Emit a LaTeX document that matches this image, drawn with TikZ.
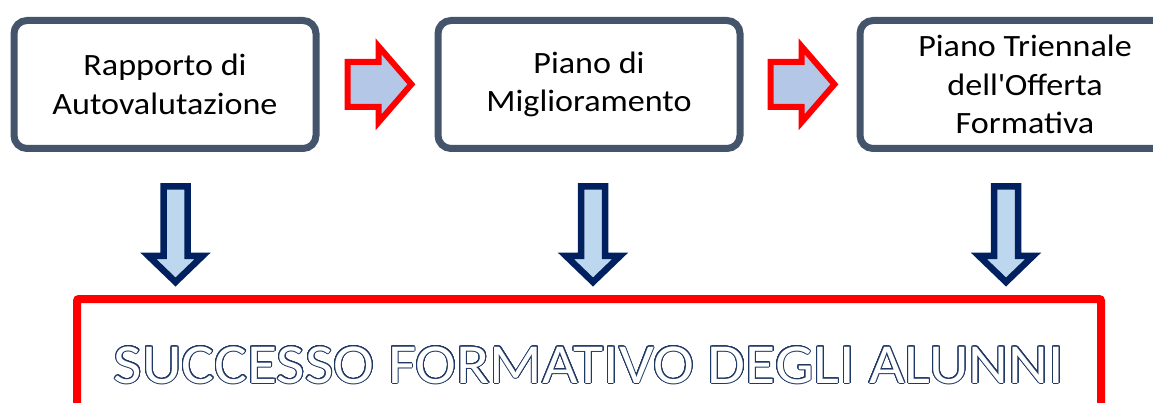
\documentclass[tikz,border=0pt]{standalone}
\usepackage{fontspec}
\setmainfont[FakeStretch=1.1]{Carlito}
\newfontfamily\goalfont[FakeStretch=1.09]{Carlito}
\definecolor{boxgray}{RGB}{68,84,106}
\definecolor{arrowblue}{RGB}{180,199,231}
\definecolor{downblue}{RGB}{189,215,238}
\definecolor{navy}{RGB}{0,32,96}
\definecolor{txtnavy}{RGB}{31,56,100}

\tikzset{
  procbox/.style={draw=boxgray,line width=7pt,rounded corners=13pt,fill=white,
    minimum width=302pt,minimum height=128pt,inner sep=0pt,align=center,
    font=\fontsize{31}{38.5}\selectfont},
  redarrow/.style={draw=red,fill=arrowblue,line width=6pt},
  downarrow/.style={draw=navy,fill=downblue,line width=6.5pt},
  goalbox/.style={draw=red,line width=8pt,rounded corners=2pt,
    minimum width=1024pt,minimum height=110pt,inner sep=0pt},
  goaltxt/.style={anchor=base,inner sep=0pt,font=\goalfont\fontsize{56.5}{60}\selectfont}
}

\begin{document}
\begin{tikzpicture}[x=1pt,y=-1pt]
\useasboundingbox (0,0) rectangle (1153,403);
\clip (0,0) rectangle (1153,403);
\fill[white] (0,0) rectangle (1153,403);

\node[procbox] (rav) at (165,84.5) {Rapporto di\\Autovalutazione};
\node[procbox] (pdm) at (589,84.5) {Piano di\\Miglioramento};
\node[procbox,minimum width=330pt] (ptof) at (1025,84.5) {Piano Triennale\\dell\textquotesingle Offerta\\Formativa};

\foreach \ax in {347.7,770.7}
  \draw[redarrow] (\ax,62) -- (\ax+31,62) -- (\ax+31,46.5) -- (\ax+63.7,84.3)
    -- (\ax+31,122.1) -- (\ax+31,107) -- (\ax,107) -- cycle;

\foreach \cx in {175.5,593,1006}
  \draw[downarrow] (\cx-12,186.5) -- (\cx+12,186.5) -- (\cx+12,256) -- (\cx+27,256)
    -- (\cx,282) -- (\cx-27,256) -- (\cx-12,256) -- cycle;

\node[goalbox] (goal) at (589,354) {};
\foreach \a in {0,15,...,345}
  \node[goaltxt,text=txtnavy] (goalrim\a) at ([shift={(\a:1)}]589,383) {SUCCESSO FORMATIVO DEGLI ALUNNI};
\node[goaltxt,text=white] (goaltext) at (589,383) {SUCCESSO FORMATIVO DEGLI ALUNNI};
\end{tikzpicture}
\end{document}
